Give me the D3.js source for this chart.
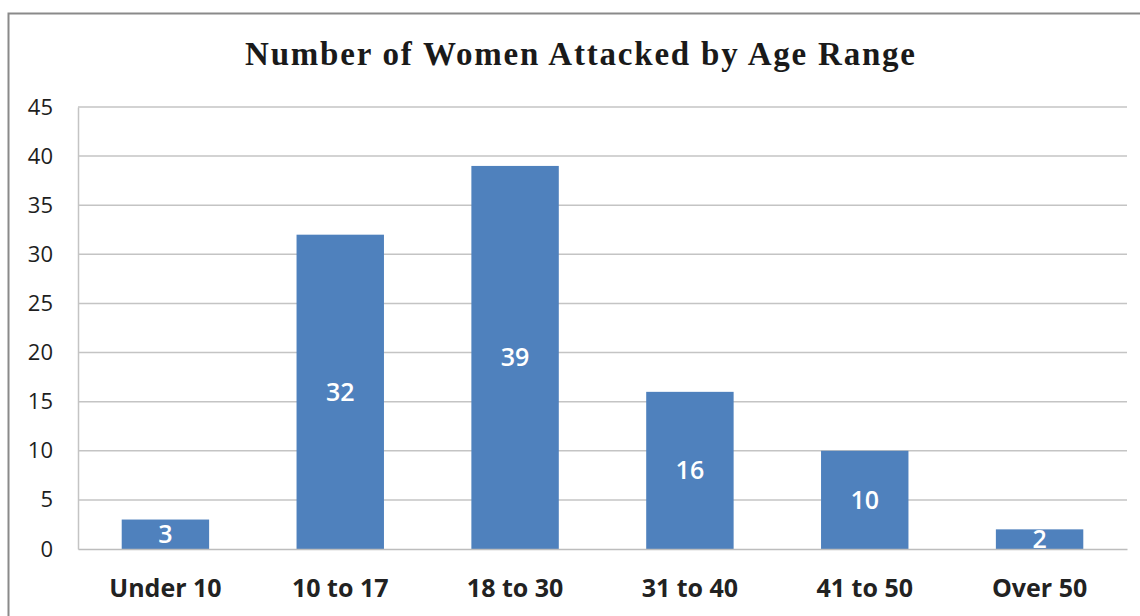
<!DOCTYPE html>
<html>
<head>
<meta charset="utf-8">
<script src="https://cdn.jsdelivr.net/npm/d3@7"></script>
<style>
  html, body { margin: 0; padding: 0; background: #fff; }
  svg { display: block; }
</style>
</head>
<body>
<svg id="chart" width="1140" height="616"></svg>
<script>
// Age ranges and counts of women attacked in each
const categories = ["Under 10", "10 to 17", "18 to 30", "31 to 40", "41 to 50", "Over 50"];
const counts = [3, 32, 39, 16, 10, 2];
const yTicks = [0, 5, 10, 15, 20, 25, 30, 35, 40, 45];
const titleText = "Number of Women Attacked by Age Range";

const svg = d3.select("#chart");
const W = 1140, H = 616;
const plot = { left: 78, right: 1127, top: 107, bottom: 549 };

// Outer chart frame
svg.append("rect")
  .attr("x", 8.5).attr("y", 13.5)
  .attr("width", W + 10).attr("height", H + 10)
  .attr("fill", "#fff")
  .attr("stroke", "#8a8a8a")
  .attr("stroke-width", 2);

svg.append("text")
  .attr("x", 580).attr("y", 65)
  .attr("text-anchor", "middle")
  .attr("font-family", "'Liberation Serif', 'DejaVu Serif', serif")
  .attr("font-weight", "bold")
  .attr("font-size", 33)
  .attr("textLength", 670)
  .attr("lengthAdjust", "spacing")
  .attr("fill", "#1a1a1a")
  .text(titleText);

const x = d3.scaleBand()
  .domain(categories)
  .range([plot.left, plot.right])
  .paddingInner(0.5)
  .paddingOuter(0.25);

const y = d3.scaleLinear()
  .domain([0, 45])
  .range([plot.bottom, plot.top]);

// Horizontal gridlines
svg.append("g")
  .selectAll("line")
  .data(yTicks.filter(d => d > 0))
  .join("line")
  .attr("x1", plot.left).attr("x2", plot.right)
  .attr("y1", d => y(d)).attr("y2", d => y(d))
  .attr("stroke", "#c4c4c4")
  .attr("stroke-width", 1.5);

// Y axis
const yAxis = svg.append("g")
  .attr("transform", `translate(${plot.left},0)`)
  .call(d3.axisLeft(y).tickValues(yTicks).tickSize(0).tickPadding(25));
yAxis.select(".domain").attr("stroke", "#c4c4c4").attr("stroke-width", 1.5);
yAxis.selectAll("text")
  .attr("font-family", "'Open Sans', sans-serif")
  .attr("font-weight", 500)
  .attr("font-size", 22)
  .attr("fill", "#1e1e1e");

// Bars
svg.append("g")
  .selectAll("rect")
  .data(categories)
  .join("rect")
  .attr("x", d => x(d))
  .attr("width", x.bandwidth())
  .attr("y", (d, i) => y(counts[i]))
  .attr("height", (d, i) => y(0) - y(counts[i]))
  .attr("fill", "#4f81bd");

// X axis
const xAxis = svg.append("g")
  .attr("transform", `translate(0,${plot.bottom})`)
  .call(d3.axisBottom(x).tickSize(0).tickPadding(30));
xAxis.select(".domain").attr("stroke", "#bdbdbd").attr("stroke-width", 1.5);
xAxis.selectAll("text")
  .attr("font-family", "'Open Sans', sans-serif")
  .attr("font-weight", "bold")
  .attr("font-size", 25)
  .attr("fill", "#222");

// Value labels, centred in each bar
svg.append("g")
  .selectAll("text")
  .data(categories)
  .join("text")
  .attr("x", d => x(d) + x.bandwidth() / 2)
  .attr("y", (d, i) => (y(counts[i]) + y(0)) / 2)
  .attr("dy", "0.36em")
  .attr("text-anchor", "middle")
  .attr("font-family", "'Open Sans', sans-serif")
  .attr("font-weight", 600)
  .attr("font-size", 25)
  .attr("fill", "#fff")
  .text((d, i) => counts[i]);
</script>
</body>
</html>
